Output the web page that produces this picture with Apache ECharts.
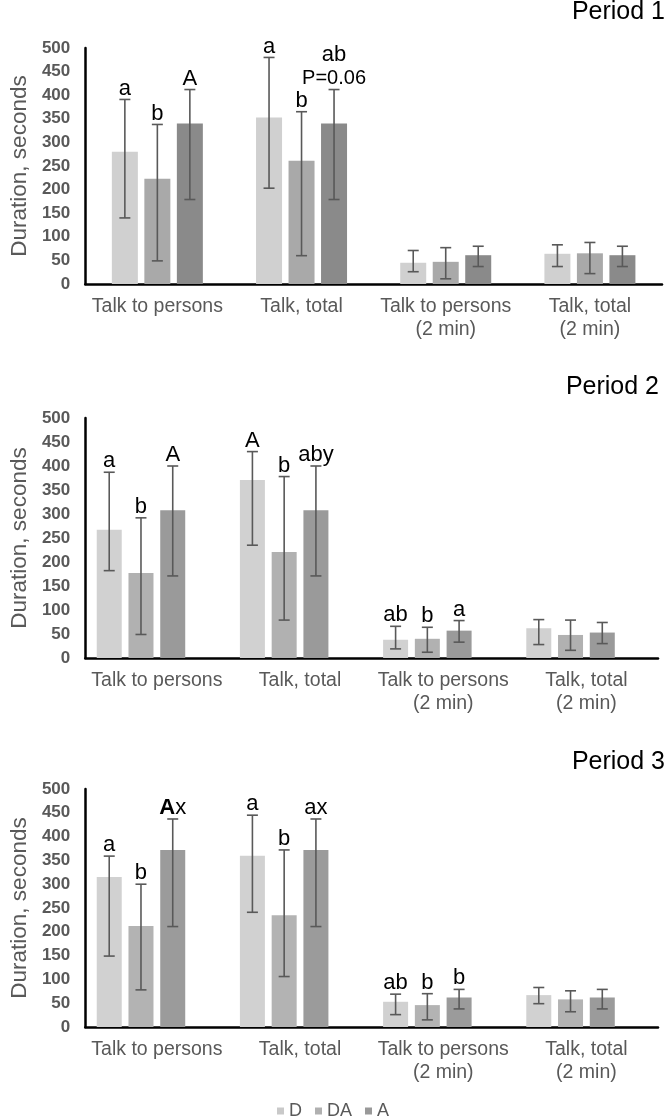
<!DOCTYPE html>
<html>
<head>
<meta charset="utf-8">
<script src="https://cdn.jsdelivr.net/npm/echarts@6/dist/echarts.min.js"></script>
<style>
html,body{margin:0;padding:0;background:#fff;}
#chart{width:669px;height:1119px;}
</style>
</head>
<body>
<div id="chart"></div>
<script>
// ---------- DATA ----------
const categories = ['Talk to persons', 'Talk, total', 'Talk to persons\n(2 min)', 'Talk, total\n(2 min)'];
const groups = ['D', 'DA', 'A'];
const periods = ['Period 1', 'Period 2', 'Period 3'];
const yTicks = [0, 50, 100, 150, 200, 250, 300, 350, 400, 450, 500];

// Period 1
const p1D_mean = [280, 353, 45, 64];
const p1D_low  = [140, 203, 26, 37];
const p1D_high = [391, 480, 71, 83];
const p1DA_mean = [223, 261, 47, 65];
const p1DA_low  = [49, 60, 11, 22];
const p1DA_high = [338, 365, 77, 88];
const p1A_mean = [340, 340, 61, 61];
const p1A_low  = [179, 179, 37, 37];
const p1A_high = [412, 412, 80, 80];
const p1D_lab  = ['a', 'a', '', ''];
const p1DA_lab = ['b', 'b', '', ''];
const p1A_lab  = ['A', 'ab\nP=0.06', '', ''];

// Period 2
const p2D_mean = [267, 371, 38, 62];
const p2D_low  = [182, 235, 19, 28];
const p2D_high = [387, 430, 66, 80];
const p2DA_mean = [177, 221, 40, 48];
const p2DA_low  = [49, 79, 12, 16];
const p2DA_high = [292, 378, 64, 79];
const p2A_mean = [308, 308, 57, 53];
const p2A_low  = [171, 171, 33, 30];
const p2A_high = [400, 400, 78, 74];
const p2D_lab  = ['a', 'A', 'ab', ''];
const p2DA_lab = ['b', 'b', 'b', ''];
const p2A_lab  = ['A', 'aby', 'a', ''];

// Period 3
const p3D_mean = [315, 360, 53, 67];
const p3D_low  = [149, 241, 26, 49];
const p3D_high = [359, 445, 69, 83];
const p3DA_mean = [212, 235, 46, 58];
const p3DA_low  = [78, 106, 15, 32];
const p3DA_high = [300, 372, 70, 76];
const p3A_mean = [372, 372, 62, 62];
const p3A_low  = [211, 211, 38, 38];
const p3A_high = [437, 437, 79, 79];
const p3D_lab  = ['a', 'a', 'ab', ''];
const p3DA_lab = ['b', 'b', 'b', ''];
const p3A_lab  = ['{b|A}{l|x}', 'ax', 'b', ''];

// ---------- LAYOUT / STYLE ----------
const FONT = "'Liberation Sans', Arial, sans-serif";
const panels = [
  { grid: {left: 77, top: 48, width: 585, height: 236}, nameGap: 51, title: {right: 4, top: 0},
    colors: ['#d0d0d0', '#a9a9a9', '#8a8a8a'], bw: 26, gap: 0.25, slots: 3,
    mean: [p1D_mean, p1DA_mean, p1A_mean], low: [p1D_low, p1DA_low, p1A_low], high: [p1D_high, p1DA_high, p1A_high],
    lab: [p1D_lab, p1DA_lab, p1A_lab] },
  { grid: {left: 72, top: 418, width: 586, height: 240}, nameGap: 54, title: {right: 10, top: 375},
    colors: ['#d1d1d1', '#b1b1b1', '#9a9a9a'], bw: 25, gap: 0.27, slots: 4,
    mean: [p2D_mean, p2DA_mean, p2A_mean], low: [p2D_low, p2DA_low, p2A_low], high: [p2D_high, p2DA_high, p2A_high],
    lab: [p2D_lab, p2DA_lab, p2A_lab] },
  { grid: {left: 74, top: 789, width: 584, height: 238}, nameGap: 53, title: {right: 4, top: 750},
    colors: ['#d1d1d1', '#b3b3b3', '#9b9b9b'], bw: 25, gap: 0.27, slots: 4,
    mean: [p3D_mean, p3DA_mean, p3A_mean], low: [p3D_low, p3DA_low, p3A_low], high: [p3D_high, p3DA_high, p3A_high],
    lab: [p3D_lab, p3DA_lab, p3A_lab] }
];

const grids = [], xAxes = [], yAxes = [], series = [], titles = [];
panels.forEach((p, pi) => {
  grids.push(Object.assign({containLabel: false}, p.grid));
  titles.push({
    text: periods[pi], right: p.title.right, top: p.title.top, padding: 0,
    textStyle: {fontFamily: FONT, fontSize: 25, fontWeight: 'normal', color: '#000'}
  });
  xAxes.push({
    type: 'category', gridIndex: pi, data: categories,
    axisLine: {lineStyle: {color: '#000', width: 2.5}},
    axisTick: {show: false},
    axisLabel: {fontFamily: FONT, fontSize: 19.5, lineHeight: 23, color: '#595959', margin: 11, interval: 0}
  });
  yAxes.push({
    type: 'value', gridIndex: pi, min: yTicks[0], max: yTicks[yTicks.length - 1], interval: yTicks[1] - yTicks[0],
    name: 'Duration, seconds', nameLocation: 'middle', nameGap: p.nameGap,
    nameTextStyle: {fontFamily: FONT, fontSize: 22.5, color: '#595959'},
    axisLine: {show: true, lineStyle: {color: '#000', width: 2.5}},
    axisTick: {show: false},
    splitLine: {show: false},
    axisLabel: {fontFamily: FONT, fontSize: 17, fontWeight: 'bold', color: '#595959', margin: 15}
  });
  const spacing = p.bw * (1 + p.gap);
  groups.forEach((g, si) => {
    series.push({
      name: g, type: 'bar', xAxisIndex: pi, yAxisIndex: pi,
      data: p.mean[si], barWidth: p.bw, barGap: (p.gap * 100) + '%',
      itemStyle: {color: p.colors[si]}, silent: true, z: 2
    });
  });
  if (p.slots === 4) {
    series.push({
      name: '_pad' + pi, type: 'bar', xAxisIndex: pi, yAxisIndex: pi,
      data: ['-', '-', '-', '-'], barWidth: p.bw, barGap: (p.gap * 100) + '%', silent: true
    });
  }
  groups.forEach((g, si) => {
    const offset = (si - (p.slots - 1) / 2) * spacing;
    const labels = p.lab[si];
    series.push({
      type: 'custom', xAxisIndex: pi, yAxisIndex: pi, z: 5, silent: true,
      encode: {x: 0, y: [1, 2]},
      data: categories.map((c, ci) => [ci, p.low[si][ci], p.high[si][ci]]),
      renderItem: function (params, api) {
        const ci = api.value(0);
        const lo = api.coord([ci, api.value(1)]);
        const hi = api.coord([ci, api.value(2)]);
        const x = lo[0] + offset;
        const cap = 5.5;
        const stroke = {stroke: '#595959', lineWidth: 1.6};
        const children = [
          {type: 'line', shape: {x1: x, y1: hi[1], x2: x, y2: lo[1]}, style: stroke},
          {type: 'line', shape: {x1: x - cap, y1: hi[1], x2: x + cap, y2: hi[1]}, style: stroke},
          {type: 'line', shape: {x1: x - cap, y1: lo[1], x2: x + cap, y2: lo[1]}, style: stroke}
        ];
        const raw = labels[params.dataIndex];
        if (raw) {
          let txt;
          if (raw.indexOf('{') >= 0) txt = raw;
          else txt = raw.split('\n').map((ln, k) => (k === 0 ? '{l|' : '{p|') + ln + '}').join('\n');
          children.push({
            type: 'text', x: x, y: hi[1] + 1,
            style: {
              text: txt, textAlign: 'center', textVerticalAlign: 'bottom',
              fill: '#000', fontFamily: FONT, fontSize: 22,
              rich: {
                l: {fontFamily: FONT, fontSize: 22, lineHeight: 24, fill: '#000'},
                b: {fontFamily: FONT, fontSize: 22, lineHeight: 24, fontWeight: 'bold', fill: '#000'},
                p: {fontFamily: FONT, fontSize: 20, lineHeight: 24, fill: '#000'}
              }
            }
          });
        }
        return {type: 'group', children: children};
      }
    });
  });
});

const chart = echarts.init(document.getElementById('chart'), null, {renderer: 'canvas'});
chart.setOption({
  animation: false,
  backgroundColor: '#ffffff',
  textStyle: {fontFamily: FONT},
  title: titles,
  grid: grids,
  xAxis: xAxes,
  yAxis: yAxes,
  legend: {
    data: [
      {name: 'D', itemStyle: {color: '#c9c9c9'}},
      {name: 'DA', itemStyle: {color: '#b0b0b0'}},
      {name: 'A', itemStyle: {color: '#999999'}}
    ],
    left: 277, top: 1102, icon: 'rect', itemWidth: 7, itemHeight: 7, itemGap: 13,
    padding: 0, selectedMode: false,
    textStyle: {fontFamily: FONT, fontSize: 18, color: '#595959'}
  },
  series: series
});
</script>
</body>
</html>
